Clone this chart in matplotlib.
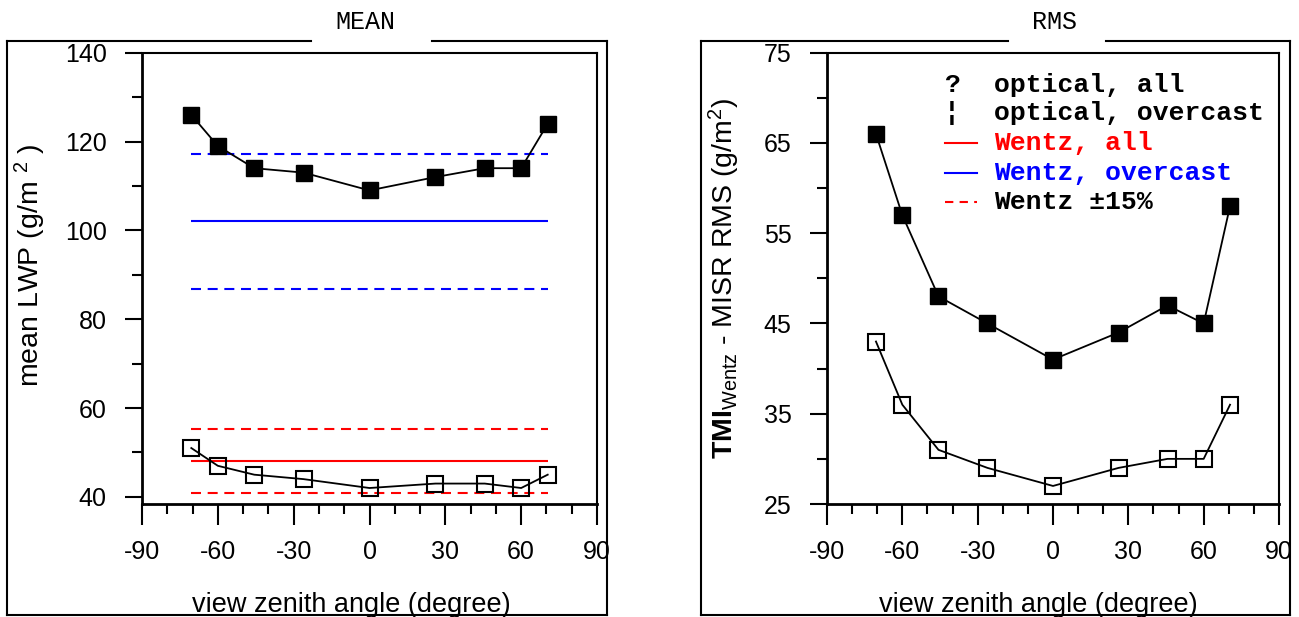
import matplotlib
matplotlib.use("Agg")
import matplotlib.pyplot as plt
from matplotlib.lines import Line2D
from matplotlib.ticker import MultipleLocator, FixedLocator

# ---------------- data ----------------
view_angle = [-70.5, -60.0, -45.6, -26.1, 0.0, 26.1, 45.6, 60.0, 70.5]
mean_overcast = [126, 119, 114, 113, 109, 112, 114, 114, 124]   # filled squares
mean_all = [51, 47, 45, 44, 42, 43, 43, 42, 45]                  # open squares
wentz_mean_all = 48
wentz_mean_overcast = 102
wentz_tolerance = 0.15
rms_overcast = [66, 57, 48, 45, 41, 44, 47, 45, 58]              # filled squares
rms_all = [43, 36, 31, 29, 27, 29, 30, 30, 36]                   # open squares
x_ticks = [-90, -60, -30, 0, 30, 60, 90]
mean_yticks = [40, 60, 80, 100, 120, 140]
rms_yticks = [25, 35, 45, 55, 65, 75]
legend_labels = ["?  optical, all", "\u00a6  optical, overcast",
                 "Wentz, all", "Wentz, overcast", "Wentz \u00b115%"]

# ---------------- style ----------------
plt.rcParams['font.family'] = ['Liberation Sans', 'DejaVu Sans']
plt.rcParams['axes.unicode_minus'] = False
plt.rcParams['mathtext.fontset'] = 'custom'
plt.rcParams['mathtext.rm'] = 'Liberation Sans'
plt.rcParams['mathtext.bf'] = 'Liberation Sans:bold'
plt.rcParams['mathtext.it'] = 'Liberation Sans:italic'

W, H = 1299, 617
fig = plt.figure(figsize=(W / 100, H / 100), dpi=100)


def fx(px):
    return px / W


def fy(py):
    return 1 - py / H


def ax_rect(x0, x1, y0, y1):
    return [fx(x0), fy(y1), fx(x1) - fx(x0), fy(y0) - fy(y1)]


ax1 = fig.add_axes(ax_rect(142, 597, 52.7, 504))
ax2 = fig.add_axes(ax_rect(827, 1279, 52.7, 504))


def style_axes(ax, ylim, yticks, yminor, ypad):
    ax.set_xlim(-90, 90)
    ax.set_ylim(*ylim)
    ax.xaxis.set_major_locator(FixedLocator(x_ticks))
    ax.xaxis.set_minor_locator(MultipleLocator(10))
    ax.yaxis.set_major_locator(FixedLocator(yticks))
    ax.yaxis.set_minor_locator(FixedLocator(yminor))
    ax.set_xticklabels([str(t) for t in x_ticks])
    ax.set_yticklabels([str(t) for t in yticks])
    ax.tick_params(axis='x', which='major', direction='out', length=15, width=1.5,
                   labelsize=18, pad=11)
    ax.tick_params(axis='x', which='minor', direction='out', length=7, width=1.5)
    ax.tick_params(axis='y', which='major', direction='out', length=12.5, width=1.5,
                   labelsize=18, pad=ypad)
    ax.tick_params(axis='y', which='minor', direction='out', length=7, width=1.5)
    for s in ax.spines.values():
        s.set_linewidth(1.5)
    ax.spines['left'].set_linewidth(2)
    ax.spines['bottom'].set_linewidth(2)


style_axes(ax1, (38.4, 140), mean_yticks, [50, 70, 90, 110, 130], 13)
style_axes(ax2, (25, 75), rms_yticks, [30, 40, 50, 60, 70], 13)

dash = (0, (4.8, 3.2))
xmin, xmax = view_angle[0], view_angle[-1]
for val, col in [(wentz_mean_overcast, 'blue'), (wentz_mean_all, 'red')]:
    ax1.hlines(val, xmin, xmax, colors=col, lw=1.5)
    ax1.hlines([val * (1 + wentz_tolerance), val * (1 - wentz_tolerance)], xmin, xmax,
               colors=col, lw=1.5, linestyles=[dash])

msz = 11
for ax, filled, opened in [(ax1, mean_overcast, mean_all), (ax2, rms_overcast, rms_all)]:
    ax.plot(view_angle, filled, color='black', lw=1.3, marker='s', ms=msz,
            mfc='black', mec='black', zorder=3)
    ax.plot(view_angle, opened, color='black', lw=1.3, marker='s', ms=msz,
            mfc='none', mec='black', mew=1.5, zorder=3)

ax1.set_xlabel('view zenith angle (degree)', fontsize=19.5)
ax2.set_xlabel('view zenith angle (degree)', fontsize=19.5)
ax1.xaxis.set_label_coords(0.459, -0.194)
ax2.xaxis.set_label_coords(0.467, -0.194)
ax1.set_ylabel(r'mean LWP (g/m $^{2}$ )', fontsize=20.5)
ax2.set_ylabel(r'$\mathbf{TMI}_{\mathrm{Wentz}}$ - MISR RMS (g/m$^{2}$)', fontsize=20.5)
ax1.yaxis.set_label_coords(-0.207, 0.53)
ax2.yaxis.set_label_coords(-0.188, 0.5)

# ---------------- legend (right panel) ----------------
mono = ['Liberation Mono', 'DejaVu Sans Mono']
rows_y = [0.928, 0.866, 0.800, 0.733, 0.669]
tx = 0.3695
ax2.text(0.2765, rows_y[0], '?', transform=ax2.transAxes, family=mono, weight='bold',
         fontsize=19, ha='center', va='center')
ax2.text(0.2765, rows_y[1], '\u00a6', transform=ax2.transAxes, family=mono, weight='bold',
         fontsize=19, ha='center', va='center')
label_colors = ['black', 'black', 'red', 'blue', 'black']
label_texts = ['optical, all', 'optical, overcast', legend_labels[2], legend_labels[3],
               legend_labels[4]]
for y, t, c in zip(rows_y, label_texts, label_colors):
    ax2.text(tx, y, t, transform=ax2.transAxes, family=mono, weight='bold',
             fontsize=19, color=c, ha='left', va='center')
for y, col, ls in [(rows_y[2], 'red', '-'), (rows_y[3], 'blue', '-'), (rows_y[4], 'red', (0, (4, 3)))]:
    ax2.add_line(Line2D([0.261, 0.332], [y, y], transform=ax2.transAxes, color=col,
                        lw=1.5, linestyle=ls))

# ---------------- outer frames with titles ----------------
def frame(x0, x1, y0, y1, gap0, gap1, title, tx_c):
    segs = [([x0, gap0], [y0, y0]), ([gap1, x1], [y0, y0]),
            ([x1, x1], [y0, y1]), ([x0, x1], [y1, y1]), ([x0, x0], [y0, y1])]
    for xs, ys in segs:
        fig.add_artist(Line2D([fx(v) for v in xs], [fy(v) for v in ys],
                              transform=fig.transFigure, color='black', lw=1.5,
                              solid_capstyle='projecting'))
    fig.text(fx(tx_c), fy(22), title, family=mono, fontsize=18, ha='center', va='center')


frame(7, 607, 41, 615, 311, 432, 'MEAN', 365)
frame(701, 1290, 41, 615, 1008, 1106, 'RMS', 1055)

fig.savefig('out.png', dpi=100)
